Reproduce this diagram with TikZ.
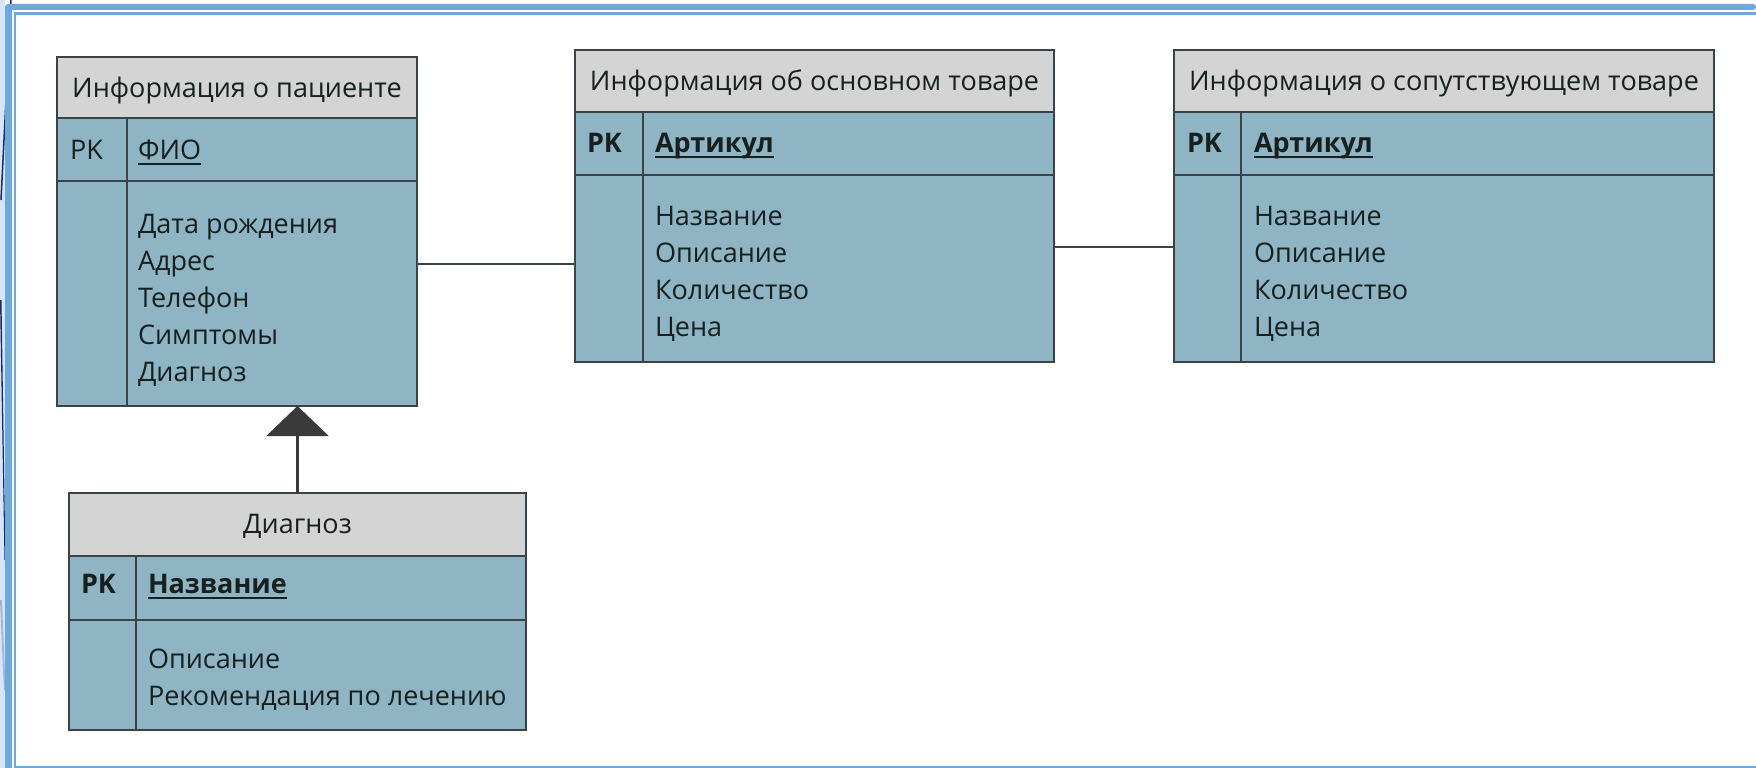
\documentclass[tikz,border=0pt]{standalone}
\usepackage{fontspec}
\setmainfont{Open Sans}
\usetikzlibrary{arrows.meta}
\definecolor{hdrc}{HTML}{D4D4D4}
\definecolor{bodyc}{HTML}{8FB4C4}
\definecolor{bord}{HTML}{3A4448}
\definecolor{txtc}{HTML}{15201F}
\definecolor{frameblue}{HTML}{6FA8DC}
\definecolor{framelav}{HTML}{D6E5FA}
\definecolor{navyc}{HTML}{22285A}
\definecolor{slatec}{HTML}{A4B4D6}
\definecolor{arrc}{HTML}{3A3A3A}
\tikzset{
  tbl/.style={draw=bord, line width=2pt, fill=bodyc, anchor=north west, inner sep=0pt, outer sep=0pt},
  hdr/.style={draw=bord, line width=2pt, fill=hdrc, anchor=north west, inner sep=0pt, outer sep=0pt},
  bline/.style={draw=bord, line width=2pt},
  conn/.style={draw=bord, line width=2.5pt},
  txt/.style={text=txtc, inner sep=0pt, outer sep=0pt, font=\fontsize{27}{32}\selectfont},
  attr/.style={txt, anchor=base west},
  htxt/.style={txt, anchor=base},
  keytxt/.style={txt, anchor=base west, font=\fontsize{27}{32}\selectfont\bfseries},
  ul/.style={draw=txtc, line width=2pt}
}
\begin{document}
\begin{tikzpicture}[x=1pt,y=-1pt]
\useasboundingbox (0,0) rectangle (1756,768);
\fill[white] (0,0) rectangle (1756,768);
% frame
\fill[framelav] (0,0) rectangle (5,768);
\draw[navyc, line width=1.5pt] (11,0) -- (1,200);
\fill[navyc] (0,300) -- (1.5,300) -- (5.5,560) -- (4.5,560) -- cycle;
\fill[slatec] (0,600) -- (2,600) -- (5.5,690) -- (4,690) -- cycle;
\fill[frameblue, rounded corners=3pt] (5,4) rectangle (1756,10);
\fill[frameblue] (5,7) rectangle (12,768);
\fill[frameblue] (14,12.5) rectangle (1756,15.3);
\fill[frameblue] (14,12.5) rectangle (16,768);
\fill[frameblue] (14,765.5) rectangle (1756,768);

% Table 1: patient
\node[tbl, minimum width=360pt, minimum height=349pt] (pat) at (57,57) {};
\node[hdr, minimum width=360pt, minimum height=61pt] (pathdr) at (57,57) {};
\draw[bline] (57,181) -- (417,181);
\draw[bline] (127,118) -- (127,406);
\node[htxt] (pathead) at (237,97) {Информация о пациенте};
\node[attr] (patpk) at (70,159) {PK};
\node[attr] (patkey) at (138,159) {ФИО};
\draw[ul] ([yshift=-5pt]patkey.base west) -- ([yshift=-5pt]patkey.base east);
\node[attr] (pata1) at (138,233) {Дата рождения};
\node[attr] (pata2) at (138,270) {Адрес};
\node[attr] (pata3) at (138,307) {Телефон};
\node[attr] (pata4) at (138,344) {Симптомы};
\node[attr] (pata5) at (138,381) {Диагноз};

% Table 2: main product
\node[tbl, minimum width=479pt, minimum height=312pt] (main) at (575,50) {};
\node[hdr, minimum width=479pt, minimum height=62pt] (mainhdr) at (575,50) {};
\draw[bline] (575,175) -- (1054,175);
\draw[bline] (643,112) -- (643,362);
\node[htxt] (mainhead) at (814.5,90) {Информация об основном товаре};
\node[keytxt] (mainpk) at (587,152) {PK};
\node[keytxt] (mainkey) at (655,152) {Артикул};
\draw[ul] ([yshift=-5pt]mainkey.base west) -- ([yshift=-5pt]mainkey.base east);
\node[attr] (maina1) at (655,225) {Название};
\node[attr] (maina2) at (655,262) {Описание};
\node[attr] (maina3) at (655,299) {Количество};
\node[attr] (maina4) at (655,336) {Цена};

% Table 3: related product
\node[tbl, minimum width=540pt, minimum height=312pt] (rel) at (1174,50) {};
\node[hdr, minimum width=540pt, minimum height=62pt] (relhdr) at (1174,50) {};
\draw[bline] (1174,175) -- (1714,175);
\draw[bline] (1241,112) -- (1241,362);
\node[htxt] (relhead) at (1444,90) {Информация о сопутствующем товаре};
\node[keytxt] (relpk) at (1187,152) {PK};
\node[keytxt] (relkey) at (1254,152) {Артикул};
\draw[ul] ([yshift=-5pt]relkey.base west) -- ([yshift=-5pt]relkey.base east);
\node[attr] (rela1) at (1254,225) {Название};
\node[attr] (rela2) at (1254,262) {Описание};
\node[attr] (rela3) at (1254,299) {Количество};
\node[attr] (rela4) at (1254,336) {Цена};

% Table 4: diagnosis
\node[tbl, minimum width=457pt, minimum height=237pt] (diag) at (69,493) {};
\node[hdr, minimum width=457pt, minimum height=63pt] (diaghdr) at (69,493) {};
\draw[bline] (69,620) -- (526,620);
\draw[bline] (136,556) -- (136,730);
\node[htxt] (diaghead) at (297.5,533) {Диагноз};
\node[keytxt] (diagpk) at (81,593) {PK};
\node[keytxt] (diagkey) at (148,593) {Название};
\draw[ul] ([yshift=-5pt]diagkey.base west) -- ([yshift=-5pt]diagkey.base east);
\node[attr] (diaga1) at (148,668) {Описание};
\node[attr] (diaga2) at (148,705) {Рекомендация по лечению};

% connectors
\draw[conn] ([yshift=-32.5pt]pat.east) -- ([yshift=-32.5pt]pat.east -| main.west);
\draw[conn] ([yshift=-41pt]main.east) -- ([yshift=-41pt]main.east -| rel.west);
\draw[conn, arrc, -{Triangle[width=62pt,length=30pt]}] (diag.north) -- (diag.north |- pat.south);
\end{tikzpicture}
\end{document}
